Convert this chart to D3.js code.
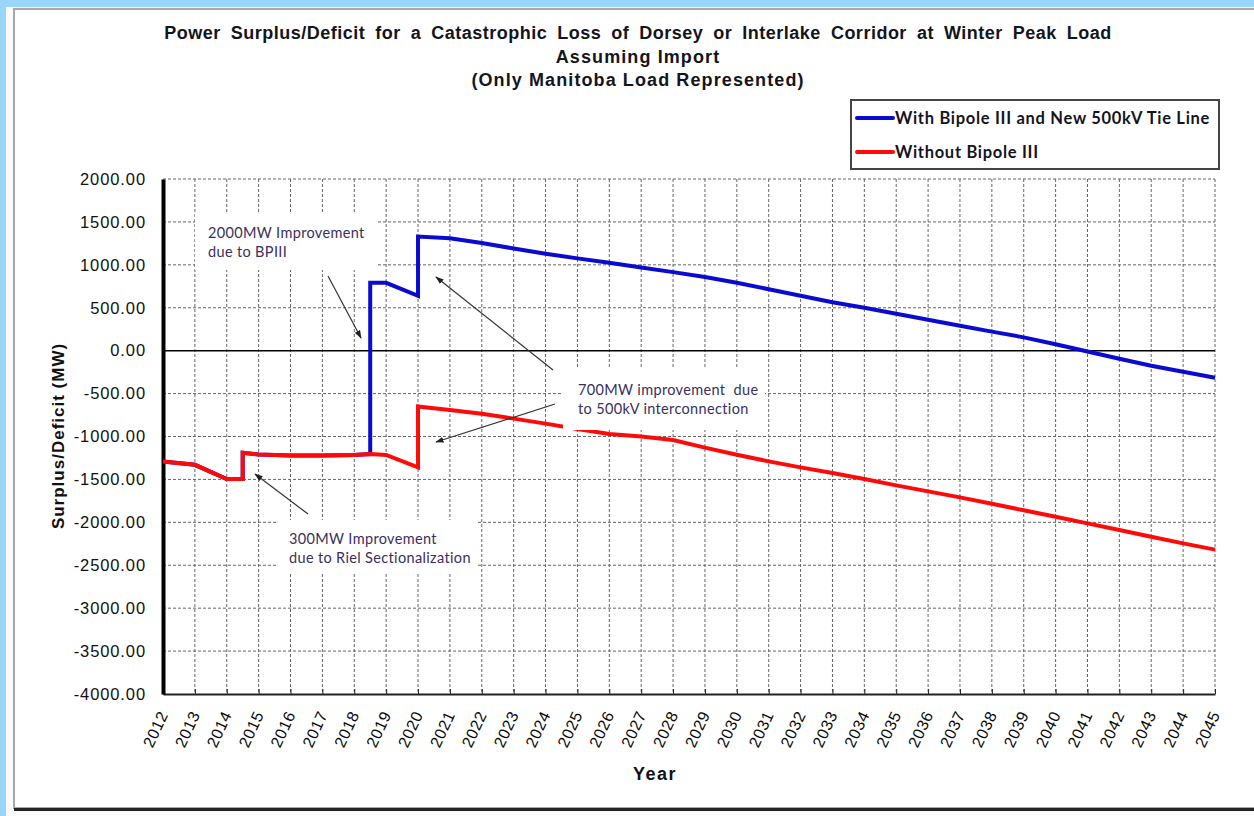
<!DOCTYPE html>
<html>
<head>
<meta charset="utf-8">
<script src="https://cdn.jsdelivr.net/npm/d3@7"></script>
<style>
  body { margin: 0; background: #9ad5fb; }
  svg { display: block; }
</style>
</head>
<body>
<svg id="chart" width="1254" height="816"></svg>
<script>
// year ticks on the x axis
const years = d3.range(2012, 2046);
// y ticks (MW)
const yTicks = d3.range(-4000, 2001, 500);

// Without Bipole III (red)
const redYears = [2012, 2013, 2014, 2014.5, 2014.5, 2015, 2016, 2017, 2018, 2018.5, 2019, 2020, 2020,
  2021, 2022, 2023, 2024, 2025, 2026, 2027, 2028, 2029, 2030, 2031, 2032, 2033, 2034, 2035,
  2036, 2037, 2038, 2039, 2040, 2041, 2042, 2043, 2044, 2045];
const redValues = [-1290, -1330, -1495, -1495, -1190, -1210, -1222, -1222, -1215, -1205, -1215, -1360, -650,
  -690, -735, -792, -850, -912, -972, -1000, -1040, -1130, -1212, -1290, -1360, -1425, -1495, -1569,
  -1639, -1709, -1783, -1860, -1934, -2012, -2090, -2167, -2245, -2318];

// With Bipole III and New 500kV Tie Line (blue) - same as red until BPIII comes in
const blueYears = [2012, 2013, 2014, 2014.5, 2014.5, 2015, 2016, 2017, 2018, 2018.5, 2018.5, 2019, 2020, 2020,
  2021, 2022, 2023, 2024, 2025, 2026, 2027, 2028, 2029, 2030, 2031, 2032, 2033, 2034, 2035,
  2036, 2037, 2038, 2039, 2040, 2041, 2042, 2043, 2044, 2045];
const blueValues = [-1290, -1330, -1495, -1495, -1190, -1210, -1222, -1222, -1215, -1205, 790, 790, 640, 1330,
  1310, 1255, 1190, 1130, 1075, 1025, 970, 915, 858, 792, 715, 640, 565, 500, 430,
  360, 290, 222, 155, 75, -10, -95, -175, -245, -315];

const titleLines = [
  "Power Surplus/Deficit for a Catastrophic Loss of Dorsey or Interlake Corridor at Winter Peak Load",
  "Assuming Import",
  "(Only Manitoba Load Represented)"
];

const legendItems = [
  { name: "With Bipole III and New 500kV Tie Line", color: "#0a0ad0" },
  { name: "Without Bipole III", color: "#ff0a0a" }
];

const svg = d3.select("#chart");
const sans = "Liberation Sans, Arial, sans-serif";

// page / panel background
svg.append("rect").attr("x", 6).attr("y", 7).attr("width", 1260).attr("height", 815).attr("fill", "#fbfbfb");
svg.append("rect").attr("x", 14).attr("y", 9).attr("width", 1250).attr("height", 799)
  .attr("fill", "#fff").attr("stroke", "#a8a8a8").attr("stroke-width", 2);
svg.append("line").attr("x1", 14).attr("x2", 1254).attr("y1", 809.5).attr("y2", 809.5)
  .attr("stroke", "#222").attr("stroke-width", 3);

const plotLeft = 163, plotRight = 1215, plotTop = 179, plotBottom = 694;
const x = d3.scaleLinear().domain([2012, 2045]).range([plotLeft, plotRight]);
const y = d3.scaleLinear().domain([-4000, 2000]).range([plotBottom, plotTop]);

// title
svg.append("g").selectAll("text").data(titleLines).join("text")
  .attr("x", 638)
  .attr("y", (d, i) => 39 + i * 23.5)
  .attr("text-anchor", "middle")
  .attr("font-family", sans)
  .attr("font-weight", "bold")
  .attr("font-size", "18px")
  .attr("letter-spacing", (d, i) => i === 0 ? "0.5px" : "1.1px")
  .attr("word-spacing", (d, i) => i === 0 ? "4.5px" : "0px")
  .attr("fill", "#141420")
  .text(d => d);

// grid
const grid = svg.append("g");
grid.selectAll("line.v").data(years.slice(1)).join("line")
  .attr("class", "v")
  .attr("x1", d => x(d)).attr("x2", d => x(d))
  .attr("y1", plotTop).attr("y2", plotBottom)
  .attr("stroke", "#666").attr("stroke-width", 1).attr("stroke-dasharray", "3,2");
grid.selectAll("line.h").data(yTicks.filter(d => d !== 0 && d !== -4000)).join("line")
  .attr("class", "h")
  .attr("x1", plotLeft).attr("x2", plotRight)
  .attr("y1", d => y(d)).attr("y2", d => y(d))
  .attr("stroke", "#666").attr("stroke-width", 1).attr("stroke-dasharray", "3,2");
grid.append("line")
  .attr("x1", plotLeft).attr("x2", plotRight).attr("y1", y(0)).attr("y2", y(0))
  .attr("stroke", "#000").attr("stroke-width", 1.5);

// x axis
const xAxis = svg.append("g")
  .attr("transform", `translate(0,${plotBottom})`)
  .call(d3.axisBottom(x).tickValues(years).tickFormat(d3.format("d")).tickSize(-5).tickSizeOuter(0));
xAxis.select(".domain").attr("stroke", "#222").attr("stroke-width", 2);
xAxis.selectAll(".tick line").attr("stroke", "#222");
xAxis.selectAll(".tick text")
  .attr("font-family", sans)
  .attr("font-size", "16px")
  .attr("letter-spacing", "0.6px")
  .attr("fill", "#0a0a0a")
  .attr("text-anchor", "end")
  .attr("dy", "0.35em")
  .attr("transform", "translate(0,18) rotate(-65)")
  .attr("y", 0);

// y axis (hyphen minus like the original)
const yFmt = d3.format(".2f");
const yAxis = svg.append("g")
  .attr("transform", `translate(${plotLeft},0)`)
  .call(d3.axisLeft(y).tickValues(yTicks).tickFormat(d => yFmt(d).replace("\u2212", "-")).tickSize(0).tickPadding(17));
yAxis.select(".domain").attr("stroke", "#000").attr("stroke-width", 4);
yAxis.selectAll(".tick text")
  .attr("font-family", sans)
  .attr("font-size", "16.5px")
  .attr("letter-spacing", "0.9px")
  .attr("fill", "#111");

// axis titles
svg.append("text")
  .attr("transform", "translate(64,436) rotate(-90)")
  .attr("text-anchor", "middle")
  .attr("font-family", sans)
  .attr("font-weight", "bold")
  .attr("font-size", "17px")
  .attr("letter-spacing", "1px")
  .attr("fill", "#111")
  .text("Surplus/Deficit (MW)");
svg.append("text")
  .attr("x", 655).attr("y", 780)
  .attr("text-anchor", "middle")
  .attr("font-family", sans)
  .attr("font-weight", "bold")
  .attr("font-size", "18px")
  .attr("letter-spacing", "1.5px")
  .attr("fill", "#111")
  .text("Year");

// series
const line = d3.line().x(d => x(d[0])).y(d => y(d[1]));
svg.append("path")
  .datum(d3.zip(blueYears, blueValues))
  .attr("d", line)
  .attr("fill", "none").attr("stroke", legendItems[0].color).attr("stroke-width", 4)
  .attr("stroke-linejoin", "miter");
svg.append("path")
  .datum(d3.zip(redYears, redValues))
  .attr("d", line)
  .attr("fill", "none").attr("stroke", legendItems[1].color).attr("stroke-width", 4)
  .attr("stroke-linejoin", "miter");

// legend
const legend = svg.append("g");
legend.append("rect").attr("x", 851).attr("y", 100).attr("width", 368).attr("height", 69)
  .attr("fill", "#fff").attr("stroke", "#444").attr("stroke-width", 2);
legendItems.forEach((item, i) => {
  const ly = 118 + i * 34;
  legend.append("line").attr("x1", 857).attr("x2", 893).attr("y1", ly).attr("y2", ly)
    .attr("stroke", item.color).attr("stroke-width", 4).attr("stroke-linecap", "round");
  legend.append("text").attr("x", 895).attr("y", ly + 6)
    .attr("font-family", "Lato, sans-serif").attr("font-weight", "bold").attr("font-size", "16.5px")
    .attr("letter-spacing", "0.7px")
    .attr("fill", "#141420")
    .text(item.name);
});

// annotations
svg.append("defs").append("marker")
  .attr("id", "arrow").attr("viewBox", "0 0 10 10")
  .attr("refX", 9).attr("refY", 5)
  .attr("markerWidth", 7).attr("markerHeight", 7)
  .attr("orient", "auto")
  .append("path").attr("d", "M0,1.5 L10,5 L0,8.5 Z").attr("fill", "#222");

const notes = [
  { box: [195, 213, 183, 57], lines: ["2000MW Improvement", "due to BPIII"], tx: 208, ty: 238 },
  { box: [563, 368, 202, 62], lines: ["700MW improvement  due", "to 500kV interconnection"], tx: 578, ty: 395 },
  { box: [276, 520, 202, 52], lines: ["300MW Improvement", "due to Riel Sectionalization"], tx: 289, ty: 544 }
];
const arrows = [
  [328, 276, 361, 338],
  [553, 370, 436, 277],
  [555, 404, 436, 442],
  [308, 514, 255, 474]
];
notes.forEach(n => {
  svg.append("rect").attr("x", n.box[0]).attr("y", n.box[1]).attr("width", n.box[2]).attr("height", n.box[3])
    .attr("fill", "#fff");
  n.lines.forEach((t, i) => {
    svg.append("text").attr("x", n.tx).attr("y", n.ty + i * 19)
      .attr("font-family", "Lato, sans-serif").attr("font-size", "14.5px")
      .attr("letter-spacing", "0.35px")
      .attr("fill", "#3b2f5e")
      .style("white-space", "pre")
      .text(t);
  });
});
svg.append("g").selectAll("line").data(arrows).join("line")
  .attr("x1", d => d[0]).attr("y1", d => d[1]).attr("x2", d => d[2]).attr("y2", d => d[3])
  .attr("stroke", "#333").attr("stroke-width", 1.2)
  .attr("marker-end", "url(#arrow)");
</script>
</body>
</html>
